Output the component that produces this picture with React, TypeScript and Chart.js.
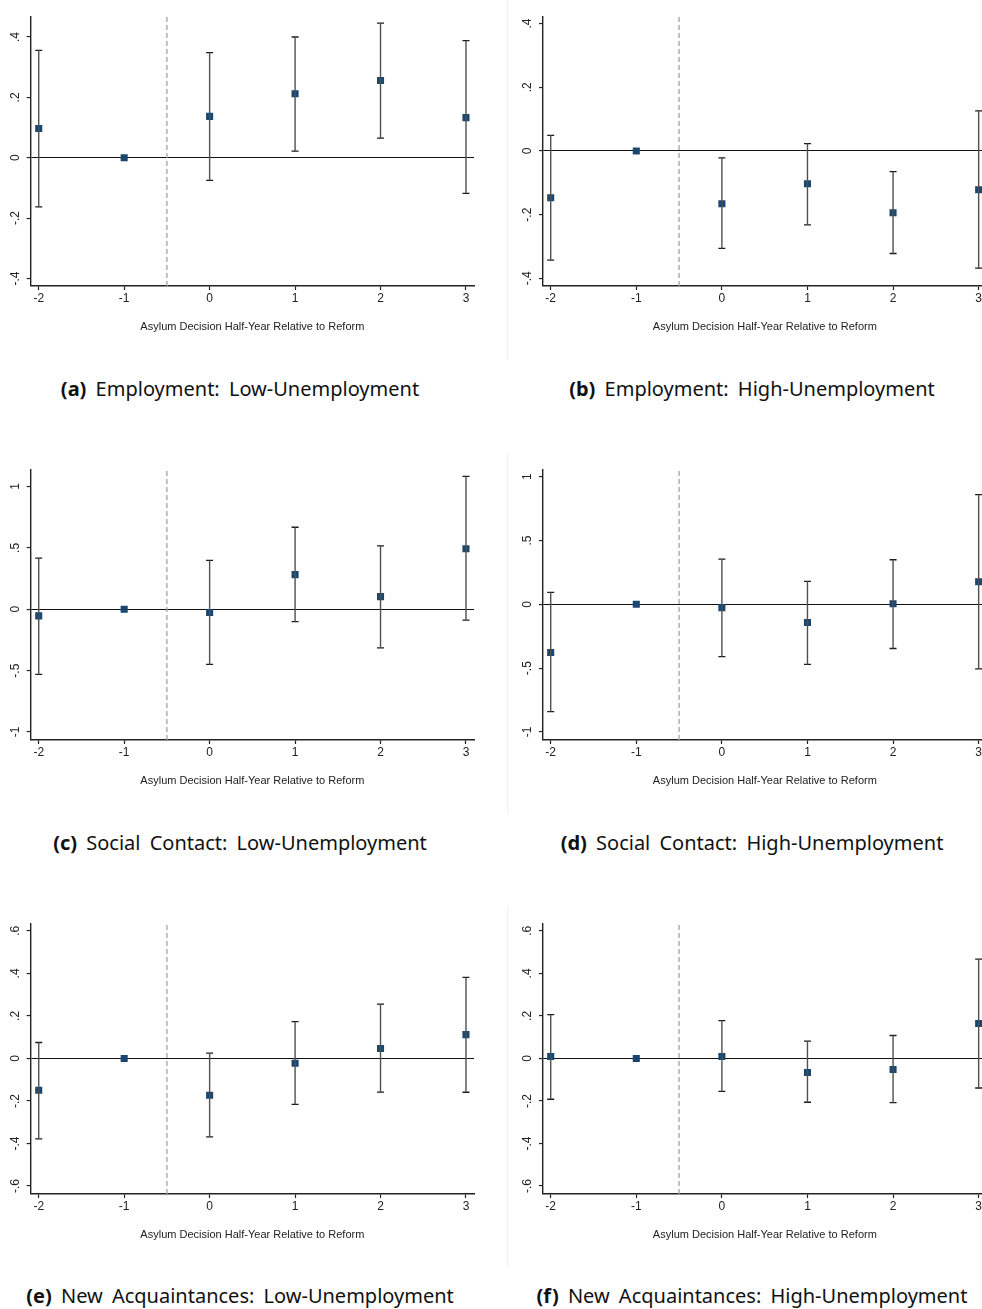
import React, { useEffect, useRef } from "react";
import { Chart, registerables } from "chart.js";

Chart.register(...registerables);

// ---------- data ----------
const X_VALUES = [-2, -1, 0, 1, 2, 3];
const X_TICK_LABELS = ["-2", "-1", "0", "1", "2", "3"];
const REFORM_X = -0.5;
const X_TITLE = "Asylum Decision Half-Year Relative to Reform";

const EMP_LOW_COEF = [0.097, 0, 0.137, 0.212, 0.256, 0.133];
const EMP_LOW_LO = [-0.163, null, -0.075, 0.022, 0.065, -0.118];
const EMP_LOW_HI = [0.356, null, 0.348, 0.4, 0.446, 0.388];

const EMP_HIGH_COEF = [-0.147, 0, -0.166, -0.103, -0.194, -0.122];
const EMP_HIGH_LO = [-0.343, null, -0.306, -0.232, -0.322, -0.368];
const EMP_HIGH_HI = [0.049, null, -0.022, 0.023, -0.065, 0.126];

const SOC_LOW_COEF = [-0.054, 0, -0.027, 0.282, 0.103, 0.493];
const SOC_LOW_LO = [-0.53, null, -0.449, -0.1, -0.314, -0.089];
const SOC_LOW_HI = [0.416, null, 0.398, 0.668, 0.517, 1.082];

const SOC_HIGH_COEF = [-0.377, 0, -0.026, -0.143, 0.005, 0.177];
const SOC_HIGH_LO = [-0.841, null, -0.409, -0.471, -0.346, -0.505];
const SOC_HIGH_HI = [0.094, null, 0.354, 0.18, 0.349, 0.859];

const ACQ_LOW_COEF = [-0.15, 0, -0.173, -0.023, 0.047, 0.112];
const ACQ_LOW_LO = [-0.378, null, -0.369, -0.216, -0.158, -0.159];
const ACQ_LOW_HI = [0.075, null, 0.025, 0.173, 0.255, 0.381];

const ACQ_HIGH_COEF = [0.009, 0, 0.009, -0.066, -0.052, 0.164];
const ACQ_HIGH_LO = [-0.192, null, -0.155, -0.206, -0.208, -0.139];
const ACQ_HIGH_HI = [0.206, null, 0.178, 0.081, 0.108, 0.467];

const Y_TICKS_EMP = [-0.4, -0.2, 0, 0.2, 0.4];
const Y_LABELS_EMP = ["-.4", "-.2", "0", ".2", ".4"];
const Y_TICKS_SOC = [-1, -0.5, 0, 0.5, 1];
const Y_LABELS_SOC = ["-1", "-.5", "0", ".5", "1"];
const Y_TICKS_ACQ = [-0.6, -0.4, -0.2, 0, 0.2, 0.4, 0.6];
const Y_LABELS_ACQ = ["-.6", "-.4", "-.2", "0", ".2", ".4", ".6"];

const CAPTION_TAGS = ["(a)", "(b)", "(c)", "(d)", "(e)", "(f)"];
const CAPTION_TEXTS = [
  "Employment: Low-Unemployment",
  "Employment: High-Unemployment",
  "Social Contact: Low-Unemployment",
  "Social Contact: High-Unemployment",
  "New Acquaintances: Low-Unemployment",
  "New Acquaintances: High-Unemployment",
];

// ---------- layout ----------
const AX_FONT = "'Liberation Sans Narrow', 'Liberation Sans', Arial, sans-serif";
const YW = 26; // y-axis box width
const XH = 50; // x-axis box height
const COLS = [
  { left: 0, width: 490, areaLeft: 30.7, areaRight: 474, xMin: -2.094, xMax: 3.094 },
  { left: 492, width: 500, areaLeft: 543, areaRight: 987, xMin: -2.09, xMax: 3.094 },
];
const ROWS = [
  { areaTop: 15, areaBottom: 286, captionY: 389, faintTop: 0 },
  { areaTop: 468.3, areaBottom: 740, captionY: 843, faintTop: 453 },
  { areaTop: 921.7, areaBottom: 1193.3, captionY: 1296, faintTop: 907 },
];

type Spec = {
  col: number;
  row: number;
  coef: number[];
  lo: (number | null)[];
  hi: (number | null)[];
  yTicks: number[];
  yLabels: string[];
  yMin: number;
  yMax: number;
  idx: number;
};

const SPECS: Spec[] = [
  { idx: 0, col: 0, row: 0, coef: EMP_LOW_COEF, lo: EMP_LOW_LO, hi: EMP_LOW_HI, yTicks: Y_TICKS_EMP, yLabels: Y_LABELS_EMP, yMin: -0.425, yMax: 0.469 },
  { idx: 1, col: 1, row: 0, coef: EMP_HIGH_COEF, lo: EMP_HIGH_LO, hi: EMP_HIGH_HI, yTicks: Y_TICKS_EMP, yLabels: Y_LABELS_EMP, yMin: -0.424, yMax: 0.423 },
  { idx: 2, col: 0, row: 1, coef: SOC_LOW_COEF, lo: SOC_LOW_LO, hi: SOC_LOW_HI, yTicks: Y_TICKS_SOC, yLabels: Y_LABELS_SOC, yMin: -1.065, yMax: 1.141 },
  { idx: 3, col: 1, row: 1, coef: SOC_HIGH_COEF, lo: SOC_HIGH_LO, hi: SOC_HIGH_HI, yTicks: Y_TICKS_SOC, yLabels: Y_LABELS_SOC, yMin: -1.0625, yMax: 1.058 },
  { idx: 4, col: 0, row: 2, coef: ACQ_LOW_COEF, lo: ACQ_LOW_LO, hi: ACQ_LOW_HI, yTicks: Y_TICKS_ACQ, yLabels: Y_LABELS_ACQ, yMin: -0.6375, yMax: 0.636 },
  { idx: 5, col: 1, row: 2, coef: ACQ_HIGH_COEF, lo: ACQ_HIGH_LO, hi: ACQ_HIGH_HI, yTicks: Y_TICKS_ACQ, yLabels: Y_LABELS_ACQ, yMin: -0.6375, yMax: 0.636 },
];

function Panel({ spec }: { spec: Spec }) {
  const ref = useRef<HTMLCanvasElement>(null);
  const col = COLS[spec.col];
  const row = ROWS[spec.row];
  const padTop = 10;
  const padBottom = 5;
  const canvasTop = row.areaTop - padTop;
  const canvasH = row.areaBottom - canvasTop + XH + padBottom;
  const padLeft = col.areaLeft - col.left - YW;
  const padRight = col.left + col.width - col.areaRight;

  useEffect(() => {
    const canvas = ref.current!;
    const errData: any[] = [];
    const capData: any[] = [];
    X_VALUES.forEach((x, i) => {
      const lo = spec.lo[i];
      const hi = spec.hi[i];
      if (lo == null || hi == null) return;
      errData.push({ x, y: lo }, { x, y: hi }, { x, y: null });
      capData.push({ x, y: lo }, { x, y: hi });
    });
    const pts = X_VALUES.map((x, i) => ({ x, y: spec.coef[i] }));

    const chart = new Chart(canvas, {
      type: "scatter",
      data: {
        datasets: [
          {
            type: "line",
            data: [
              { x: REFORM_X, y: spec.yMin },
              { x: REFORM_X, y: spec.yMax },
            ],
            borderColor: "#a3a3a3",
            borderWidth: 1.3,
            borderDash: [5, 3],
            pointRadius: 0,
            fill: false,
          } as any,
          {
            type: "line",
            data: errData,
            borderColor: "#505050",
            borderWidth: 1.4,
            pointRadius: 0,
            spanGaps: false,
            fill: false,
          } as any,
          {
            data: capData,
            pointStyle: "line",
            pointRadius: 3.5,
            borderColor: "#1a1a1a",
            borderWidth: 1.3,
          } as any,
          {
            data: pts,
            pointStyle: "rect",
            pointRadius: 5,
            backgroundColor: "#1a476f",
            borderWidth: 0,
          } as any,
        ],
      },
      options: {
        responsive: false,
        animation: false,
        events: [],
        layout: { padding: { left: padLeft, right: padRight, top: padTop, bottom: padBottom } },
        plugins: { legend: { display: false }, tooltip: { enabled: false } },
        scales: {
          x: {
            type: "linear",
            min: col.xMin,
            max: col.xMax,
            afterBuildTicks: (s: any) => {
              s.ticks = X_VALUES.map((v) => ({ value: v }));
            },
            afterFit: (s: any) => {
              s.height = XH;
            },
            ticks: {
              autoSkip: false,
              maxRotation: 0,
              padding: 1,
              color: "#222",
              font: { family: AX_FONT, size: 12 },
              callback: (v: any) => {
                const i = X_VALUES.indexOf(v);
                return i >= 0 ? X_TICK_LABELS[i] : "";
              },
            },
            grid: {
              drawOnChartArea: false,
              drawTicks: true,
              tickLength: 4,
              tickColor: "#222",
              tickWidth: 1.2,
            },
            border: { display: true, color: "#222", width: 1.4 },
            title: {
              display: true,
              text: X_TITLE,
              color: "#222",
              font: { family: AX_FONT, size: 11 },
              padding: { top: 0, bottom: 2.5 },
            },
          },
          y: {
            type: "linear",
            min: spec.yMin,
            max: spec.yMax,
            afterBuildTicks: (s: any) => {
              s.ticks = spec.yTicks.map((v) => ({ value: v }));
            },
            afterFit: (s: any) => {
              s.width = YW;
            },
            ticks: {
              autoSkip: false,
              minRotation: 90,
              maxRotation: 90,
              crossAlign: "center",
              padding: 4,
              color: "#222",
              font: { family: AX_FONT, size: 12 },
              callback: (v: any) => {
                const i = spec.yTicks.indexOf(v);
                return i >= 0 ? spec.yLabels[i] : "";
              },
            },
            grid: {
              drawOnChartArea: true,
              drawTicks: true,
              tickLength: 4,
              tickColor: "#222",
              tickWidth: 1.2,
              lineWidth: 1.1,
              color: (ctx: any) => (ctx.tick && ctx.tick.value === 0 ? "#111" : "rgba(0,0,0,0)"),
            },
            border: { display: true, color: "#222", width: 1.4 },
          },
        },
      } as any,
    });
    return () => chart.destroy();
  }, []);

  return (
    <div
      style={{
        position: "absolute",
        left: col.left,
        top: canvasTop,
        width: col.width,
        height: canvasH,
      }}
    >
      <canvas
        ref={ref}
        width={col.width}
        height={Math.round(canvasH)}
        style={{ width: col.width, height: Math.round(canvasH), display: "block" }}
      />
    </div>
  );
}

const CAPTION_CENTERS = [240, 752];

export default function App() {
  return (
    <div
      style={{
        position: "absolute",
        left: 0,
        top: 0,
        width: 982,
        height: 1309,
        overflow: "hidden",
        background: "#fff",
      }}
    >
      {ROWS.map((r, i) => (
        <div
          key={"faint" + i}
          style={{
            position: "absolute",
            left: 507,
            top: r.faintTop,
            width: 1,
            height: 360,
            background: "#eef1f1",
          }}
        />
      ))}
      {SPECS.map((s) => (
        <Panel key={s.idx} spec={s} />
      ))}
      {SPECS.map((s) => (
        <div
          key={"cap" + s.idx}
          style={{
            position: "absolute",
            left: CAPTION_CENTERS[s.col],
            top: ROWS[s.row].captionY - 13,
            transform: "translateX(-50%)",
            whiteSpace: "nowrap",
            fontFamily: "'Noto Sans', 'Open Sans', sans-serif",
            fontSize: 20,
            lineHeight: "26px",
            wordSpacing: 4,
            color: "#111",
          }}
        >
          <span style={{ fontWeight: 700 }}>{CAPTION_TAGS[s.idx]}</span>{" "}
          {CAPTION_TEXTS[s.idx]}
        </div>
      ))}
    </div>
  );
}
